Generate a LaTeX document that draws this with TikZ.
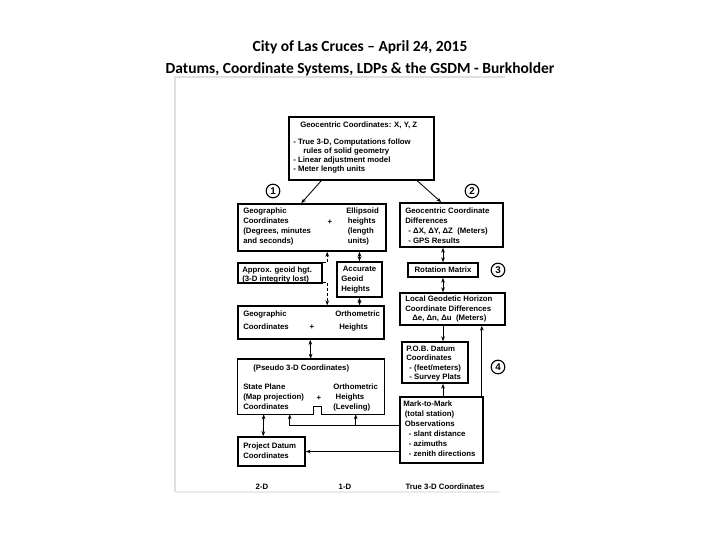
\documentclass[tikz,border=0pt]{standalone}
\usepackage{fontspec}
\setmainfont{Liberation Sans}
\newfontfamily\titlefont{Carlito}
\usetikzlibrary{calc,fit,arrows.meta}
\newcommand\dgfont{\fontsize{5.55}{7}\selectfont\bfseries}
\tikzset{
  datumbox/.style={draw, line width=1.1pt, inner sep=0pt},
  lbl/.style={font=\dgfont, inner sep=0pt, align=left, anchor=north west},
  num/.style={draw, circle, line width=0.8pt, minimum size=0.34cm, inner sep=0pt, font=\fontsize{7}{7}\selectfont\bfseries},
  link/.style={line width=0.6pt},
  arr/.style={link, -{Stealth[length=3.5pt,width=2.6pt]}},
  dbl/.style={link, {Stealth[length=3.5pt,width=2.6pt]}-{Stealth[length=3.5pt,width=2.6pt]}},
  dasharr/.style={arr, dash pattern=on 2pt off 1.5pt},
}
\begin{document}
\begin{tikzpicture}[x=0.025cm, y=-0.025cm]
\useasboundingbox (0,0) rectangle (720,540);
% heading
\node[font=\titlefont\bfseries\fontsize{11}{12}\selectfont] (title1) at (360,47) {City of Las Cruces – April 24, 2015};
\node[font=\titlefont\bfseries\fontsize{11}{12}\selectfont] (title2) at (360,69) {Datums, Coordinate Systems, LDPs \& the GSDM - Burkholder};
% edge of the scanned page
\draw[black!12, line width=1.2pt] (175,492) -- (175,77) -- (505,77);
\draw[black!8, line width=1.2pt] (175,492) -- (500,492);

% boxes
\node[datumbox, fit={(289,117) (434,180)}] (topbox) {};
\node[datumbox, fit={(238,204) (386,251)}] (geoA) {};
\node[datumbox, fit={(400,203) (503,247)}] (gcd) {};
\node[datumbox, fit={(408,263) (478,277)}] (rot) {};
\node[datumbox, fit={(238,263) (322,283)}] (apx) {};
\node[datumbox, fit={(337,262) (382,297)}] (acc) {};
\node[datumbox, fit={(400,293) (505,325)}] (lgh) {};
\node[datumbox, fit={(238,306) (384,339)}] (geoC) {};
\node[datumbox, fit={(402,342) (468,383)}] (pob) {};
\node[inner sep=0pt, fit={(238,359) (384,414)}] (sp) {};
\draw[line width=1.1pt] (sp.south west) -- (sp.north west) -- (sp.north east) -- (sp.south east)
  -- ($(sp.south west)+(84,0)$) -- ++(0,-8) -- ++(-8,0) -- ++(0,8) -- cycle;
\node[datumbox, fit={(400,397) (483,463)}] (mtm) {};
\node[datumbox, fit={(238,437) (305,466)}] (pdc) {};

% texts
\node[lbl, anchor=west] (topttl) at (300,125) {Geocentric Coordinates: X, Y, Z};
\node[lbl, font=\fontsize{5.55}{6.4}\selectfont\bfseries] (toplst) at (293,139) {- True 3-D, Computations follow\\\hspace*{1.3em}rules of solid geometry\\- Linear adjustment model\\- Meter length units};
\node[lbl] (geoAl) at (243,208) {Geographic\\Coordinates\\(Degrees, minutes\\and seconds)};
\node[font=\dgfont, inner sep=0pt] (geoAp) at (330,222) {+};
\node[lbl] (geoAr) at (346,208) {Ellipsoid\\\hspace*{0.2em}heights\\\hspace*{0.2em}(length\\\hspace*{0.2em}units)};
\node[lbl] (gcdt) at (405,208) {Geocentric Coordinate\\Differences\\\hspace*{0.4em}- ΔX, ΔY, ΔZ~~(Meters)\\\hspace*{0.4em}- GPS Results};
\node[font=\dgfont, inner sep=0pt] (rott) at (rot.center) {Rotation Matrix};
\node[lbl, font=\fontsize{5.55}{6.4}\selectfont\bfseries] (apxt) at (242,267) {Approx. geoid hgt.\\(3-D integrity lost)};
\node[lbl] (acct) at (341,266) {\hspace*{0.2em}Accurate\\Geoid\\Heights};
\node[lbl, font=\fontsize{5.55}{6.5}\selectfont\bfseries] (lght) at (405,296) {Local Geodetic Horizon\\Coordinate Differences\\\hspace*{0.9em}Δe, Δn, Δu~~(Meters)};
\node[lbl, anchor=west] (geoCl1) at (243,314) {Geographic};
\node[lbl, anchor=west] (geoCl2) at (243,327) {Coordinates};
\node[font=\dgfont, inner sep=0pt] (geoCp) at (312,327) {+};
\node[lbl, anchor=west] (geoCr1) at (335,314) {Orthometric};
\node[lbl, anchor=west] (geoCr2) at (339,327) {Heights};
\node[lbl, font=\fontsize{5.55}{6.5}\selectfont\bfseries] (pobt) at (406,346) {P.O.B. Datum\\Coordinates\\\hspace*{0.4em}- (feet/meters)\\\hspace*{0.4em}- Survey Plats};
\node[lbl, anchor=west] (spttl) at (253,368) {(Pseudo 3-D Coordinates)};
\node[lbl] (spl) at (243,384) {State Plane\\(Map projection)\\Coordinates};
\node[font=\dgfont, inner sep=0pt] (spp) at (319,398) {+};
\node[lbl] (spr) at (333,384) {Orthometric\\\hspace*{0.3em}Heights\\(Leveling)};
\node[lbl] (mtmt) at (403,401) {Mark-to-Mark\\\hspace*{0.2em}(total station)\\\hspace*{0.2em}Observations\\\hspace*{0.7em}- slant distance\\\hspace*{0.7em}- azimuths\\\hspace*{0.7em}- zenith directions};
\node[lbl] (pdct) at (243,443) {Project Datum\\Coordinates};

% circled numbers
\node[num] (n1) at (273,191) {1};
\node[num] (n2) at (472,191) {2};
\node[num] (n3) at (498,270) {3};
\node[num] (n4) at (498,367) {4};

% bottom labels
\node[font=\dgfont, inner sep=0pt] (dim2) at (262,487) {2-D};
\node[font=\dgfont, inner sep=0pt] (dim1) at (345,487) {1-D};
\node[font=\dgfont, inner sep=0pt] (dim3) at (445,487) {True 3-D Coordinates};

% connectors
\draw[arr] ($(topbox.south west)+(33,0)$) -- ($(geoA.north west)+(64,0)$);
\draw[arr] ($(topbox.south west)+(129,0)$) -- ($(gcd.north west)+(42,0)$);
\draw[dbl] (rot.north) -- (rot.north |- gcd.south);
\draw[dbl] (rot.south) -- (rot.south |- lgh.north);
\draw[arr] (lgh.south -| rot) -- (pob.north -| rot);
\draw[arr] (mtm.north -| rot) -- (pob.south -| rot);
\draw[arr] ($(mtm.north east)+(-2,0)$) -- ($(lgh.south east)+(-24,0)$);
\draw[arr] ($(mtm.west)+(0,-5)$) -| ($(sp.south west)+(52,0)$);
\draw[arr] ($(sp.south west)+(118,11)$) -- ($(sp.south west)+(118,0)$);
\draw[arr] (mtm.west |- pdc.east) -- (pdc.east);
\draw[dbl] ($(pdc.north west)+(26,0)$) -- ($(sp.south west)+(26,0)$);
\draw[dbl] ($(geoC.south west)+(73,0)$) -- ($(sp.north west)+(73,0)$);
\draw[dbl] (acc.north) -- (acc.north |- geoA.south);
\draw[dbl] (acc.south) -- (acc.south |- geoC.north);
\draw[dasharr] (apx.north east) -| ($(geoA.south west)+(90,0)$);
\draw[dasharr] ($(apx.south east)+(0,-1)$) -| ($(geoC.north west)+(90,0)$);
\end{tikzpicture}
\end{document}
